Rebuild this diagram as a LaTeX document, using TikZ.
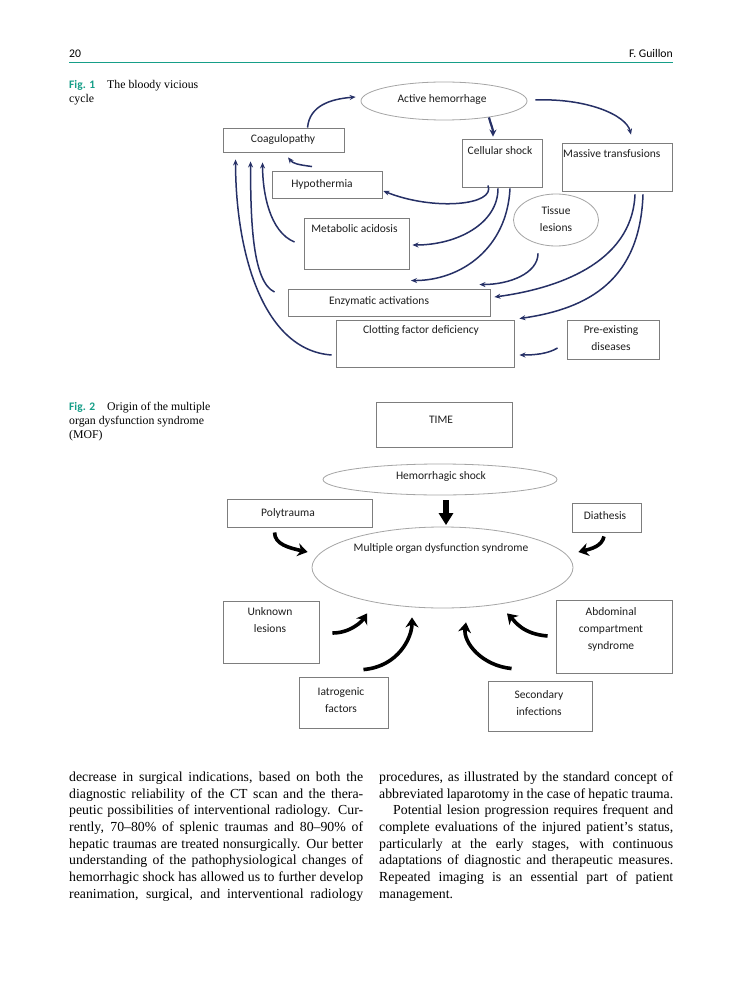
\documentclass[tikz,border=0pt]{standalone}
\usepackage{fontspec}
\setmainfont{Liberation Serif}
\newfontfamily\diagfont{Carlito}
\usetikzlibrary{arrows.meta,calc,shapes.geometric}
\definecolor{tealc}{RGB}{22,158,136}
\definecolor{navy}{RGB}{38,48,102}
\definecolor{boxgray}{RGB}{125,125,125}
\definecolor{ellgray}{RGB}{165,165,165}
\definecolor{txtc}{RGB}{30,30,30}
\newcommand\bodyline[4]{\node[body] (#1) at (#2,#3) {\makebox[294pt][s]{#4}};}
\begin{document}
\begin{tikzpicture}[x=1pt,y=-1pt,
  box/.style={draw=boxgray, line width=0.9pt, inner sep=0pt},
  ell/.style={draw=ellgray, line width=0.8pt, ellipse, inner sep=0pt},
  lbl/.style={font=\diagfont\fontsize{11.5}{17}\selectfont, text=txtc, inner sep=0pt, align=center},
  nav/.style={draw=navy, line width=1.5pt, -{Stealth[length=6pt,width=5pt]}},
  blk/.style={draw=black, line width=3.6pt, -{Stealth[length=10pt,width=13pt]}},
  body/.style={font=\fontsize{13.8}{16.67}\selectfont, inner sep=0pt, anchor=base west, text=black},
  capt/.style={font=\fontsize{11.8}{14}\selectfont, inner sep=0pt, anchor=base west, text=black},
  figlab/.style={font=\diagfont\bfseries\fontsize{11.5}{14}\selectfont, text=tealc, inner sep=0pt, anchor=base west},
  hdr/.style={font=\diagfont\fontsize{11.7}{14}\selectfont, inner sep=0pt, text=black}
]
\useasboundingbox[fill=white] (0,0) rectangle (742,1000);

% header
\node[hdr, anchor=base west] (pnum) at (69,58) {20};
\node[hdr, anchor=base east] (auth) at (673,58) {F. Guillon};
\draw[tealc, line width=1.4pt] (69,62.3) -- (673,62.3);

% captions
\node[figlab] (f1lab) at (69,88.5) {Fig. 1};
\node[capt] (f1a) at (107,88.5) {The bloody vicious};
\node[capt] (f1b) at (69,102.5) {cycle};
\node[figlab] (f2lab) at (69,410.5) {Fig. 2};
\node[capt] (f2a) at (107,410.5) {Origin of the multiple};
\node[capt] (f2b) at (69,424.5) {organ dysfunction syndrome};
\node[capt] (f2c) at (69,438.5) {(MOF)};

% ---------------- Fig 1 ----------------
\node[ell, minimum width=166pt, minimum height=38pt] (ah) at (444,101) {};
\node[lbl, anchor=base] (aht) at (442,102.5) {Active hemorrhage};
\node[box, minimum width=121pt, minimum height=24pt] (coag) at (283.5,140) {};
\node[lbl, anchor=base] (coagt) at (283,142.5) {Coagulopathy};
\node[box, minimum width=80pt, minimum height=48pt] (cs) at (502,163) {};
\node[lbl, anchor=base] (cst) at (500,154.5) {Cellular shock};
\node[box, minimum width=110pt, minimum height=48pt] (mt) at (617,167) {};
\node[lbl, anchor=base west] (mtt) at (563,157.5) {Massive transfusions};
\node[box, minimum width=110pt, minimum height=27pt] (hypo) at (327,184.5) {};
\node[lbl, anchor=base] (hypot) at (322,187.5) {Hypothermia};
\node[box, minimum width=105pt, minimum height=51pt] (ma) at (356.5,243.5) {};
\node[lbl, anchor=base] (mat) at (354.5,232.5) {Metabolic acidosis};
\node[box, minimum width=202pt, minimum height=27pt] (ea) at (389,302.5) {};
\node[lbl, anchor=base] (eat) at (379,304.5) {Enzymatic activations};
\node[box, minimum width=178pt, minimum height=47pt] (cfd) at (425,343.5) {};
\node[lbl, anchor=base] (cfdt) at (421,333.5) {Clotting factor deficiency};
\node[ell, minimum width=85pt, minimum height=52pt] (tl) at (556,220) {};
\node[lbl] (tlt) at (556,219) {Tissue\\lesions};
\node[box, minimum width=92pt, minimum height=39pt] (pre) at (613,339.5) {};
\node[lbl] (pret) at (611,338.5) {Pre-existing\\diseases};

% Fig 1 connectors
\draw[nav] ($(coag.north west)+(85,0)$) .. controls +(2,-22) and +(-25,2) .. ($(ah.west)+(-5,-4)$);
\draw[nav, line width=2.2pt, -{Stealth[length=7pt,width=7pt]}] ($(ah.south)+(45,-3)$) .. controls +(2,8) and +(0,-8) .. ($(cs.north)+(-9,-2)$);
\draw[nav] ($(ah.east)+(8,-1)$) .. controls +(50,-2) and +(-5,-20) .. ($(mt.north)+(14,-8)$);
\draw[nav] ($(hypo.north)+(-15,-4)$) .. controls +(-15,-2) and +(5,6) .. ($(coag.south)+(4.5,5)$);
\draw[nav] ($(cs.south)+(-14,-2)$) .. controls +(8,20) and +(50,20) .. ($(hypo.east)+(1,6.5)$);
\draw[nav] ($(cs.south)+(-4,1)$) .. controls +(0,35) and +(45,0) .. ($(ma.east)+(3,1.5)$);
\draw[nav] ($(cs.south)+(8,1)$) .. controls +(-3,60) and +(50,0) .. ($(ea.north)+(22,-8)$);
\draw[nav] ($(tl.south)+(-18,7)$) .. controls +(0,20) and +(30,0) .. ($(ea.north east)+(-11,-4)$);
\draw[nav] ($(mt.south)+(18,3)$) .. controls +(-3,70) and +(60,-8) .. ($(ea.east)+(4,-5.5)$);
\draw[nav] ($(mt.south)+(26,3)$) .. controls +(-3,85) and +(70,-10) .. ($(cfd.north east)+(5,-1)$);
\draw[nav] ($(pre.west)+(-9,8.5)$) .. controls +(-10,6) and +(15,0) .. ($(cfd.east)+(5,11.5)$);
\draw[nav] ($(ma.west)+(-9,-1.5)$) .. controls +(-25,-10) and +(0,30) .. ($(coag.south west)+(40,10)$);
\draw[nav] ($(ea.west)+(-13,-10.5)$) .. controls +(-22,-10) and +(0,60) .. ($(coag.south west)+(28,9)$);
\draw[nav] ($(cfd.west)+(-4,11.5)$) .. controls +(-70,-5) and +(0,90) .. ($(coag.south west)+(13,7)$);

% ---------------- Fig 2 ----------------
\node[box, minimum width=136pt, minimum height=45pt] (time) at (444,424.5) {};
\node[lbl, anchor=base] (timet) at (441,423.5) {TIME};
\node[ell, minimum width=234pt, minimum height=31pt] (hs) at (440,479.5) {};
\node[lbl, anchor=base] (hst) at (441,479.5) {Hemorrhagic shock};
\node[box, minimum width=145pt, minimum height=28pt] (poly) at (299.5,513) {};
\node[lbl, anchor=base] (polyt) at (288,516.5) {Polytrauma};
\node[box, minimum width=69pt, minimum height=29pt] (dia) at (606.5,517.5) {};
\node[lbl, anchor=base] (diat) at (605,519.5) {Diathesis};
\node[ell, minimum width=261pt, minimum height=81pt] (mof) at (442.5,567.5) {};
\node[lbl, anchor=base] (moft) at (441,551.5) {Multiple organ dysfunction syndrome};
\node[box, minimum width=96pt, minimum height=62pt] (unk) at (271,632) {};
\node[lbl] (unkt) at (270,620.5) {Unknown\\lesions};
\node[box, minimum width=116pt, minimum height=73pt] (acs) at (614,636.5) {};
\node[lbl] (acst) at (611,629.5) {Abdominal\\compartment\\syndrome};
\node[box, minimum width=89pt, minimum height=51pt] (iat) at (343.5,702.5) {};
\node[lbl] (iatt) at (341,700) {Iatrogenic\\factors};
\node[box, minimum width=104pt, minimum height=50pt] (sec) at (540,706) {};
\node[lbl] (sect) at (539,703.5) {Secondary\\infections};

% Fig 2 connectors
\draw[draw=black, line width=6.5pt, -{Triangle[length=12pt,width=14pt]}] ($(hs.south)+(6,5)$) -- ($(mof.north)+(3.5,-1.5)$);
\draw[blk] ($(poly.south west)+(48,5)$) .. controls +(0,12) and +(-18,-4) .. ($(mof.west)+(-4,-15.5)$);
\draw[blk] ($(dia.south)+(-2.5,4)$) .. controls +(-2,10) and +(12,-3) .. ($(mof.east)+(5,-15.5)$);
\draw[blk] ($(unk.east)+(13,1)$) .. controls +(18,0) and +(-5,8) .. ($(mof.south)+(-75.5,5)$);
\draw[blk] ($(iat.north east)+(-25,-7)$) .. controls +(35,-3) and +(0,20) .. ($(mof.south)+(-30.5,9)$);
\draw[blk] ($(sec.north west)+(24,-12)$) .. controls +(-30,-3) and +(-3,20) .. ($(mof.south)+(23.5,14)$);
\draw[blk] ($(acs.west)+(-8,-0.5)$) .. controls +(-25,-2) and +(8,8) .. ($(mof.south)+(64.5,5)$);

% ---------------- body text ----------------
\bodyline{l1}{69}{781.4}{decrease in surgical indications, based on both the}
\bodyline{l2}{69}{798.1}{diagnostic reliability of the CT scan and the thera-}
\bodyline{l3}{69}{814.7}{peutic possibilities of interventional radiology. Cur-}
\bodyline{l4}{69}{831.4}{rently, 70–80\% of splenic traumas and 80–90\% of}
\bodyline{l5}{69}{848.1}{hepatic traumas are treated nonsurgically. Our better}
\bodyline{l6}{69}{864.8}{understanding of the pathophysiological changes of}
\bodyline{l7}{69}{881.4}{hemorrhagic shock has allowed us to further develop}
\bodyline{l8}{69}{898.1}{reanimation, surgical, and interventional radiology}
\bodyline{r1}{379}{781.4}{procedures, as illustrated by the standard concept of}
\bodyline{r2}{379}{798.1}{abbreviated laparotomy in the case of hepatic trauma.}
\node[body] (r3) at (393,814.7) {\makebox[280pt][s]{Potential lesion progression requires frequent and}};
\bodyline{r4}{379}{831.4}{complete evaluations of the injured patient’s status,}
\bodyline{r5}{379}{848.1}{particularly at the early stages, with continuous}
\bodyline{r6}{379}{864.8}{adaptations of diagnostic and therapeutic measures.}
\bodyline{r7}{379}{881.4}{Repeated imaging is an essential part of patient}
\node[body] (r8) at (379,898.1) {management.};
\end{tikzpicture}
\end{document}
